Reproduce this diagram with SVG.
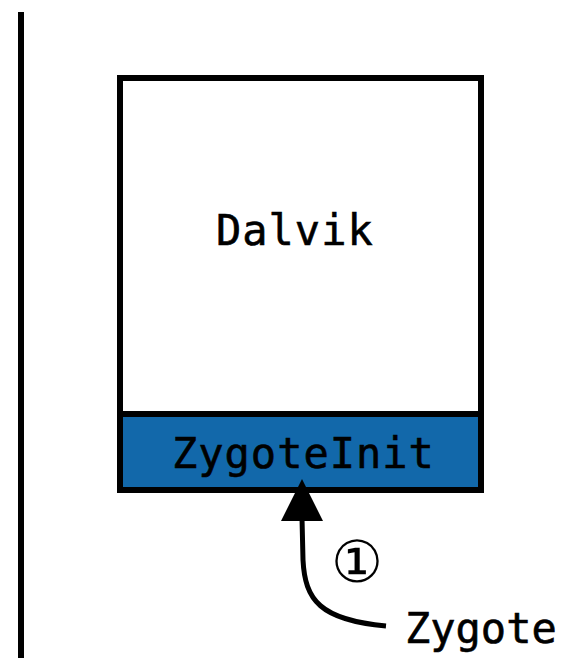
<svg xmlns="http://www.w3.org/2000/svg" width="561" height="658" viewBox="0 0 561 658">
<style>
.t{font-family:"DejaVu Sans Mono","Liberation Mono",monospace;font-size:42px;fill:#000;stroke:#000;stroke-width:0.6;letter-spacing:1px}
.box{stroke:#000;stroke-width:6}
</style>
<rect width="561" height="658" fill="#fff"/>
<line x1="21" y1="12" x2="21" y2="658" stroke="#000" stroke-width="6"/>
<g id="dalvik">
<rect class="box" x="120" y="78" width="361" height="336" fill="#fff"/>
<text class="t" x="216" y="245">Dalvik</text>
</g>
<g id="zygoteinit">
<rect class="box" x="120" y="414" width="361" height="76" fill="#1268AA"/>
<text class="t" x="172" y="468">ZygoteInit</text>
</g>
<g id="zygote">
<text class="t" x="405" y="643" style="letter-spacing:0">Zygote</text>
</g>
<g id="connectors">
<path d="M386,626 C320,620 305,600 303,560 L302,518" fill="none" stroke="#000" stroke-width="5"/>
<polygon points="281,521 323,521 302,479" fill="#000"/>
<text x="357" y="582" text-anchor="middle" font-family="DejaVu Serif,serif" font-size="58">①</text>
</g>
</svg>
